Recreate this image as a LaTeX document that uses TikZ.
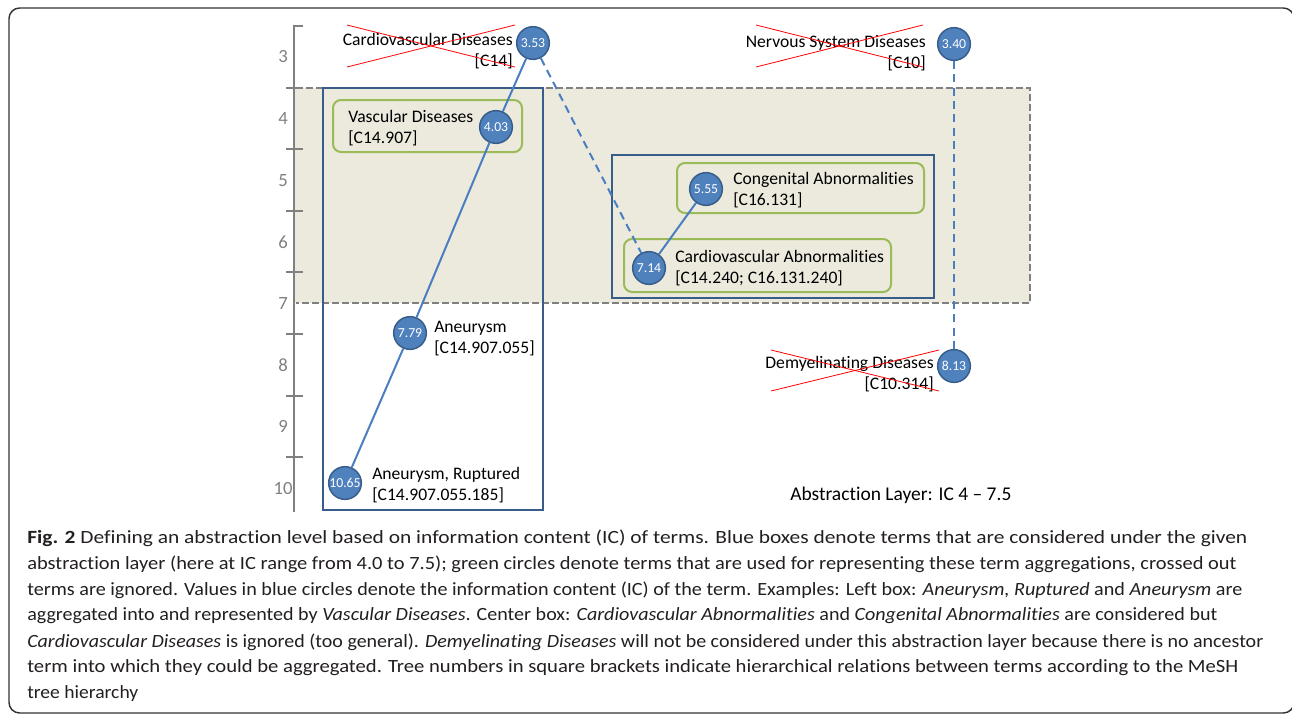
\documentclass[tikz,border=0pt]{standalone}
\usepackage{fontspec}
\usepackage{graphicx}
\setmainfont{Carlito}[RawFeature={-liga}]
\usetikzlibrary{calc}

\definecolor{bandfill}{RGB}{236,233,221}
\definecolor{bandline}{RGB}{128,128,128}
\definecolor{boxblue}{RGB}{56,93,138}
\definecolor{termgreen}{RGB}{155,187,89}
\definecolor{icfill}{RGB}{79,129,189}
\definecolor{icedge}{RGB}{56,93,138}
\definecolor{linkblue}{RGB}{74,126,193}
\definecolor{crossred}{RGB}{255,0,0}
\definecolor{axisgray}{RGB}{128,128,128}
\definecolor{captext}{RGB}{35,31,32}

\newcommand{\capline}[2]{\resizebox{#1}{\height}{#2}}

\begin{document}
\begin{tikzpicture}[x=0.75pt,y=-0.75pt,
  ic/.style={circle, fill=icfill, draw=icedge, line width=1.1pt,
    minimum size=24.5pt, inner sep=0pt, text=white,
    font=\fontsize{10.3}{11}\selectfont},
  term/.style={inner sep=0pt, text=black,
    font=\fontsize{13.2}{15.75}\selectfont},
  axislabel/.style={inner sep=0pt, text=axisgray,
    font=\fontsize{14}{16}\selectfont},
  caption/.style={inner sep=0pt, anchor=west, text=captext,
    font=\fontsize{14}{16}\selectfont},
  link/.style={draw=linkblue, line width=1.5pt},
  linkdash/.style={link, dash pattern=on 6pt off 4pt},
  layerbox/.style={draw=boxblue, line width=1.5pt},
  aggbox/.style={draw=termgreen, line width=1.5pt, rounded corners=6pt},
  crossline/.style={draw=crossred, line width=0.6pt},
  axisline/.style={draw=axisgray, line width=1.5pt},
  bandedge/.style={draw=bandline, line width=1.1pt, dash pattern=on 5pt off 2.5pt}
]
\clip (0,0) rectangle (1292,715);

% outer frame
\draw[line width=1.1pt, draw=black!80, rounded corners=8pt] (9,8) rectangle (1294,713);

% abstraction layer band (IC 4 - 7.5)
\fill[bandfill] (294,88) rectangle (1030,303);
\draw[bandedge] (296,88) -- (1030,88) -- (1030,303) -- (296,303);

% IC axis
\draw[axisline] (294,26) -- (294,512);
\draw[axisline] (293,26) -- (303,26);
\foreach \t in {87.6,149.2,210.8,272.4,334,395.6,457.2}
  \draw[axisline] (286,\t) -- (303,\t);
\foreach \v [count=\i from 0] in {3,...,10}
  \node[axislabel] (ax\v) at (283,{57+61.6*\i}) {\v};

% groups considered under the layer
\draw[layerbox] (323,88) rectangle (543,510);
\draw[layerbox] (612,155) rectangle (934,298);

% representative terms
\draw[aggbox] (333,100) rectangle (522,152);
\draw[aggbox] (677,163) rectangle (924,213);
\draw[aggbox] (624,239) rectangle (891,292);

% terms with their IC values
\node[ic] (c353) at (533,43) {3.53};
\node[ic] (c403) at (496,127) {4.03};
\node[ic] (c779) at (410,333) {7.79};
\node[ic] (c1065) at (345,483) {10.65};
\node[ic] (c340) at (954,44) {3.40};
\node[ic] (c555) at (706,189) {5.55};
\node[ic] (c714) at (649,268) {7.14};
\node[ic] (c813) at (954,366) {8.13};

% hierarchy links
\draw[link] (c353) -- (c403);
\draw[link] (c403) -- (c779);
\draw[link] (c779) -- (c1065);
\draw[linkdash] (c353) -- (c714);
\draw[link] (c555) -- (c714);
\draw[linkdash] (c340) -- (c813);

% term names
\node[term, anchor=east, align=right] (cvd) at (513,51) {Cardiovascular Diseases\\{}[C14]};
\node[term, anchor=east, align=right] (nsd) at (926,53) {Nervous System Diseases\\{}[C10]};
\node[term, anchor=west, align=left] (vd) at (348,128) {Vascular Diseases\\{}[C14.907]};
\node[term, anchor=west, align=left] (an) at (434,339) {Aneurysm\\{}[C14.907.055]};
\node[term, anchor=west, align=left] (anr) at (372,485) {Aneurysm, Ruptured\\{}[C14.907.055.185]};
\node[term, anchor=west, align=left] (ca) at (733,190) {Congenital Abnormalities\\{}[C16.131]};
\node[term, anchor=west, align=left] (cva) at (675,268) {Cardiovascular Abnormalities\\{}[C14.240; C16.131.240]};
\node[term, anchor=east, align=right] (dd) at (934,374) {Demyelinating Diseases\\{}[C10.314]};
\node[term, anchor=west, font=\fontsize{14.6}{16}\selectfont] (layer) at (790,495) {Abstraction Layer: IC 4 -- 7.5};

% ignored terms are crossed out
\draw[crossline] (347,25) -- (515,67);
\draw[crossline] (347,67) -- (515,25);
\draw[crossline] (756,25) -- (923,67);
\draw[crossline] (756,67) -- (923,25);
\draw[crossline] (771,350) -- (939,391);
\draw[crossline] (771,391) -- (939,350);

% caption
\node[caption] (cap1) at (27,538) {\capline{915pt}{\textbf{Fig. 2} Defining an abstraction level based on information content (IC) of terms. Blue boxes denote terms that are considered under the given}};
\node[caption] (cap2) at (27,564) {\capline{906.75pt}{abstraction layer (here at IC range from 4.0 to 7.5); green circles denote terms that are used for representing these term aggregations, crossed out}};
\node[caption] (cap3) at (27,590) {\capline{911.25pt}{terms are ignored. Values in blue circles denote the information content (IC) of the term. Examples: Left box: \textit{Aneurysm, Ruptured} and \textit{Aneurysm} are}};
\node[caption] (cap4) at (27,616) {\capline{892.5pt}{aggregated into and represented by \textit{Vascular Diseases}. Center box: \textit{Cardiovascular Abnormalities} and \textit{Congenital Abnormalities} are considered but}};
\node[caption] (cap5) at (27,642) {\capline{927pt}{\textit{Cardiovascular Diseases} is ignored (too general). \textit{Demyelinating Diseases} will not be considered under this abstraction layer because there is no ancestor}};
\node[caption] (cap6) at (27,668) {\capline{908.25pt}{term into which they could be aggregated. Tree numbers in square brackets indicate hierarchical relations between terms according to the MeSH}};
\node[caption] (cap7) at (27,694) {\capline{83.25pt}{tree hierarchy}};
\end{tikzpicture}
\end{document}
